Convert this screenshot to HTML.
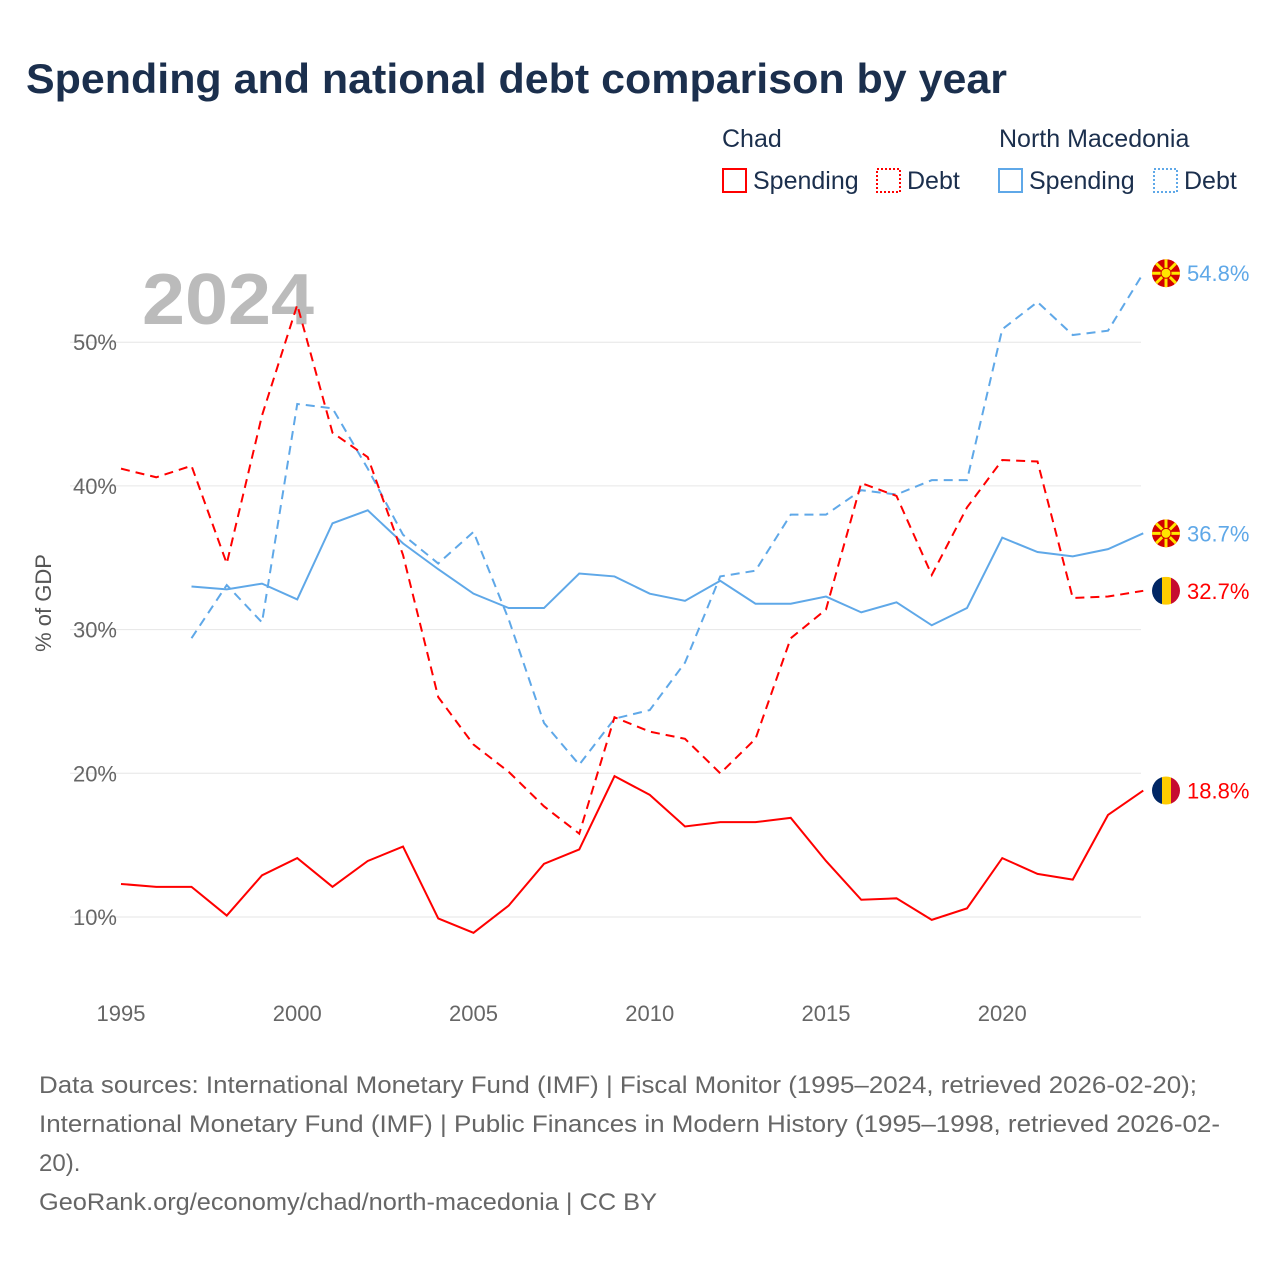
<!DOCTYPE html>
<html><head><meta charset="utf-8"><style>
body{margin:0;background:#fff;font-family:"Liberation Sans",sans-serif;}
#c{position:relative;width:1280px;height:1280px;overflow:hidden}
</style></head><body><div id="c">
<svg id="s" width="1280" height="1280" xmlns="http://www.w3.org/2000/svg">
<text x="26" y="93" font-size="42" font-weight="bold" fill="#1b2f4d" textLength="981" lengthAdjust="spacingAndGlyphs">Spending and national debt comparison by year</text>
<g font-size="25" fill="#1b2f4d">
<text x="722" y="147">Chad</text>
<text x="999" y="147">North Macedonia</text>
<g><rect x="723" y="169" width="23" height="23" fill="none" stroke="#f00" stroke-width="2"/><text x="753" y="189">Spending</text></g>
<g><rect x="877" y="169" width="23" height="23" fill="none" stroke="#f00" stroke-width="2" stroke-dasharray="2,2"/><text x="907" y="189">Debt</text></g>
<g><rect x="999" y="169" width="23" height="23" fill="none" stroke="#5fa8e8" stroke-width="2"/><text x="1029" y="189">Spending</text></g>
<g><rect x="1154" y="169" width="23" height="23" fill="none" stroke="#5fa8e8" stroke-width="2" stroke-dasharray="2,2"/><text x="1184" y="189">Debt</text></g>
</g>
<text x="142" y="324" font-size="72" font-weight="bold" fill="#bbb" textLength="172" lengthAdjust="spacingAndGlyphs">2024</text>
<text transform="translate(51,603) rotate(-90)" text-anchor="middle" font-size="22" fill="#555">% of GDP</text>
<g id="grid"></g><g id="xt"></g><g id="lines"></g><g id="ends"></g>
<g font-size="24" fill="#666">
<text x="39" y="1093" textLength="1158" lengthAdjust="spacingAndGlyphs">Data sources: International Monetary Fund (IMF) | Fiscal Monitor (1995–2024, retrieved 2026-02-20);</text>
<text x="39" y="1132" textLength="1181" lengthAdjust="spacingAndGlyphs">International Monetary Fund (IMF) | Public Finances in Modern History (1995–1998, retrieved 2026-02-</text>
<text x="39" y="1171">20).</text>
<text x="39" y="1210" textLength="618" lengthAdjust="spacingAndGlyphs">GeoRank.org/economy/chad/north-macedonia | CC BY</text>
</g>
</svg></div>
<script>
const years=[];for(let y=1995;y<=2024;y++)years.push(y);
const yTicks=[10,20,30,40,50];
const xTicks=[1995,2000,2005,2010,2015,2020];
const chadSpending=[12.3,12.1,12.1,10.1,12.9,14.1,12.1,13.9,14.9,9.9,8.9,10.8,13.7,14.7,19.8,18.5,16.3,16.6,16.6,16.9,13.9,11.2,11.3,9.8,10.6,14.1,13.0,12.6,17.1,18.8];
const chadDebt=[41.2,40.6,41.4,34.6,44.9,52.6,43.7,42.0,35.2,25.3,22.0,20.1,17.7,15.8,23.9,22.9,22.4,20.0,22.4,29.4,31.4,40.2,39.3,33.8,38.5,41.8,41.7,32.2,32.3,32.7];
const nmSpending=[null,null,33.0,32.8,33.2,32.1,37.4,38.3,36.0,34.2,32.5,31.5,31.5,33.9,33.7,32.5,32.0,33.4,31.8,31.8,32.3,31.2,31.9,30.3,31.5,36.4,35.4,35.1,35.6,36.7];
const nmDebt=[null,null,29.4,33.1,30.5,45.7,45.4,41.2,36.6,34.6,36.8,30.7,23.5,20.6,23.8,24.4,27.7,33.7,34.1,38.0,38.0,39.7,39.4,40.4,40.4,50.9,52.8,50.5,50.8,54.8];
const X=y=>121+(y-1995)*35.25, Y=v=>917-(v-10)*14.37;
const NS="http://www.w3.org/2000/svg";
function mk(t,a,p){const e=document.createElementNS(NS,t);for(const k in a)e.setAttribute(k,a[k]);p.appendChild(e);return e;}
const grid=document.getElementById('grid');
yTicks.forEach(v=>{
const l=mk('line',{x1:70,x2:1141,y1:Y(v),y2:Y(v),stroke:'#e6e6e6','stroke-width':1},grid);


const t=mk('text',{x:117,y:Y(v)+8,'text-anchor':'end','font-size':22,fill:'#666'},grid);t.textContent=v+'%';


});
const xt=document.getElementById('xt');
xTicks.forEach(y=>{const t=mk('text',{x:X(y),y:1021,'text-anchor':'middle','font-size':22,fill:'#666'},xt);t.textContent=y;

});
const lines=document.getElementById('lines');
function draw(arr,color,dash,name){let d='';let m=true;arr.forEach((v,i)=>{if(v==null){m=true;return;}d+=(m?'M':'L')+X(years[i])+','+Y(v);m=false;});
const p=mk('path',{d:d,fill:'none',stroke:color,'stroke-width':2,'stroke-dasharray':dash||'none'},lines);

}
draw(nmSpending,'#5fa8e8','', 'line-nm-spending');
draw(nmDebt,'#5fa8e8','9,6','line-nm-debt');
draw(chadSpending,'#f00','', 'line-chad-spending');
draw(chadDebt,'#f00','9,6','line-chad-debt');
const ends=document.getElementById('ends');
function flag(kind,v,color,name){const cy=Y(v),cx=1166;const g=mk('g',{},ends);


mk('clipPath',{id:'c'+name},g).appendChild(document.createElementNS(NS,'circle')).setAttribute('r',14);
g.lastChild.firstChild.setAttribute('cx',cx);g.lastChild.firstChild.setAttribute('cy',cy);
const f=mk('g',{'clip-path':'url(#c'+name+')'},g);
if(kind=='td'){mk('rect',{x:cx-14,y:cy-14,width:10,height:28,fill:'#002664'},f);mk('rect',{x:cx-4,y:cy-14,width:9,height:28,fill:'#fecb00'},f);mk('rect',{x:cx+5,y:cy-14,width:10,height:28,fill:'#c60c30'},f);}
else{mk('rect',{x:cx-14,y:cy-14,width:28,height:28,fill:'#d20000'},f);for(let a=0;a<8;a++){const r=a*Math.PI/4;mk('line',{x1:cx,y1:cy,x2:cx+20*Math.cos(r),y2:cy+20*Math.sin(r),stroke:'#ffe600','stroke-width':3},f);}mk('circle',{cx:cx,cy:cy,r:5,fill:'#ffe600',stroke:'#d20000','stroke-width':1},f);}
const t=mk('text',{x:1187,y:cy+8,'font-size':22,fill:color},ends);t.textContent=v.toFixed(1)+'%';

}
flag('mk',nmDebt[29],'#5fa8e8','end-nm-debt');
flag('mk',nmSpending[29],'#5fa8e8','end-nm-spending');
flag('td',chadDebt[29],'#f00','end-chad-debt');
flag('td',chadSpending[29],'#f00','end-chad-spending');
</script></body></html>
